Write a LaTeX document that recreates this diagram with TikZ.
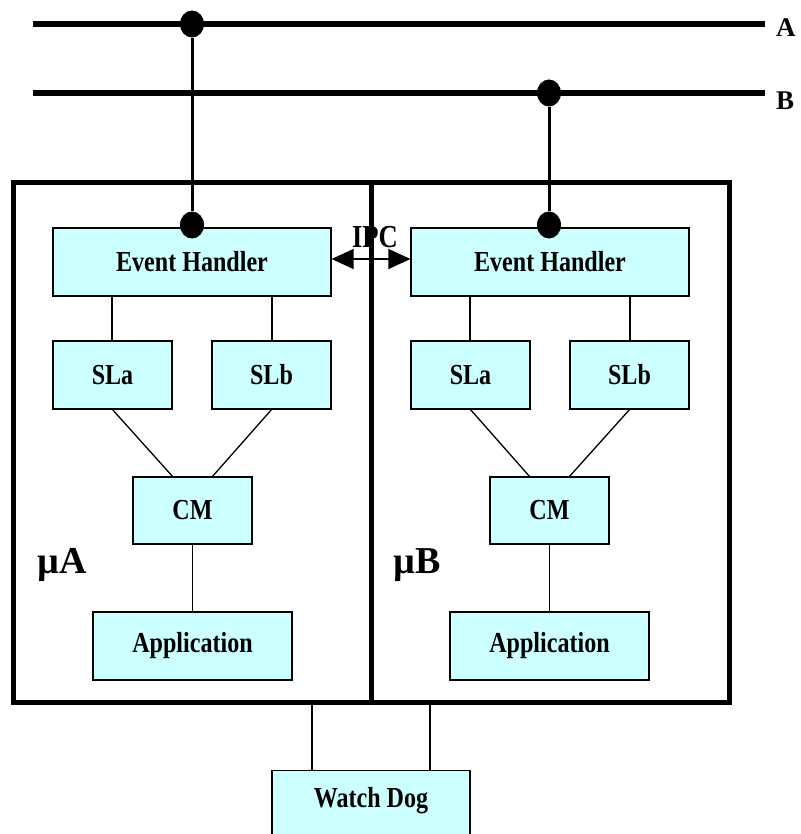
\documentclass[tikz,border=0pt]{standalone}
\usepackage{fontspec}
\setmainfont{Liberation Serif}[FakeStretch=0.83]
\newfontfamily\plainserif{Liberation Serif}
\usetikzlibrary{arrows.meta,shapes.geometric}
\definecolor{boxfill}{HTML}{CCFFFF}
\begin{document}
\begin{tikzpicture}[x=1pt,y=-1pt,
  unit/.style={draw=black,line width=1.2pt,fill=boxfill,inner sep=0pt,
    font=\bfseries\fontsize{29}{32}\selectfont},
  outer/.style={draw=black,line width=5pt,inner sep=0pt},
  bus/.style={line width=6pt},
  tap/.style={line width=3pt},
  wire/.style={line width=1.3pt},
  dot/.style={fill=black,draw=none,ellipse,minimum width=24pt,minimum height=27pt,inner sep=0pt},
  label/.style={font=\plainserif\bfseries\fontsize{27}{29}\selectfont,inner sep=0pt}]
\clip (0,0) rectangle (800,834);

% buses
\coordinate (aL) at (33,24); \coordinate (aR) at (765,24);
\coordinate (bL) at (33,93); \coordinate (bR) at (765,93);
\draw[bus] (aL) -- (aR);
\draw[bus] (bL) -- (bR);
\node[label,anchor=west] (lA) at (776,28) {A};
\node[label,anchor=west] (lB) at (776,101) {B};

% IPC label (sits behind the shared border)
\node[label,font=\bfseries\fontsize{32}{34}\selectfont] (ipc) at (375,237) {IPC};

% processor frames
\node[outer,minimum width=358pt,minimum height=519pt] (boxA) at (192,442.5) {};
\node[outer,minimum width=358pt,minimum height=519pt] (boxB) at (550,442.5) {};

% left processor
\node[unit,minimum width=278pt,minimum height=68pt] (ehA) at (192,262) {Event Handler};
\node[unit,minimum width=119pt,minimum height=68pt] (slaA) at (112.5,375) {SLa};
\node[unit,minimum width=119pt,minimum height=68pt] (slbA) at (271.5,375) {SLb};
\node[unit,minimum width=119pt,minimum height=67pt] (cmA) at (192.5,510.5) {CM};
\node[unit,minimum width=199pt,minimum height=68pt] (appA) at (192.5,646) {Application};
\node[label,font=\plainserif\bfseries\fontsize{38}{40}\selectfont] (muA) at (62,565) {µA};

% right processor
\node[unit,minimum width=278pt,minimum height=68pt] (ehB) at (550,262) {Event Handler};
\node[unit,minimum width=119pt,minimum height=68pt] (slaB) at (470.5,375) {SLa};
\node[unit,minimum width=119pt,minimum height=68pt] (slbB) at (629.5,375) {SLb};
\node[unit,minimum width=119pt,minimum height=67pt] (cmB) at (549.5,510.5) {CM};
\node[unit,minimum width=199pt,minimum height=68pt] (appB) at (549.5,646) {Application};
\node[label,font=\plainserif\bfseries\fontsize{38}{40}\selectfont] (muB) at (417,565) {µB};

% watchdog
\node[unit,minimum width=198pt,minimum height=70pt,anchor=north] (wd) at (371,770) {};
\node[unit,draw=none,fill=none] (wdt) at (371,801) {Watch Dog};

% taps from the buses
\node[dot] (tA1) at (192,24) {};
\node[dot] (tA2) at (192,225) {};
\node[dot] (tB1) at (549,93) {};
\node[dot] (tB2) at (549,225) {};
\draw[tap] (tA1) -- (tA2);
\draw[tap] (tB1) -- (tB2);

% internal wiring
\foreach \s in {A,B}{
  \draw[wire] ([xshift=-80pt]eh\s.south) -- ([xshift=-80pt]eh\s.south |- sla\s.north);
  \draw[wire] ([xshift=80pt]eh\s.south) -- ([xshift=80pt]eh\s.south |- slb\s.north);
  \draw[wire] (sla\s.south) -- ([xshift=-20pt]cm\s.north);
  \draw[wire] (slb\s.south) -- ([xshift=20pt]cm\s.north);
  \draw[wire] (cm\s.south) -- (app\s.north);
}

% inter-processor link
\draw[wire,{Triangle[length=22pt,width=20pt]}-{Triangle[length=22pt,width=20pt]}]
  ([yshift=3pt]ehA.east) -- ([yshift=3pt]ehB.east -| ehB.west);

% watchdog connections
\draw[wire] ([xshift=-59pt]wd.north) -- ([xshift=-59pt]wd.north |- boxA.south);
\draw[wire] ([xshift=59pt]wd.north) -- ([xshift=59pt]wd.north |- boxB.south);
\end{tikzpicture}
\end{document}
